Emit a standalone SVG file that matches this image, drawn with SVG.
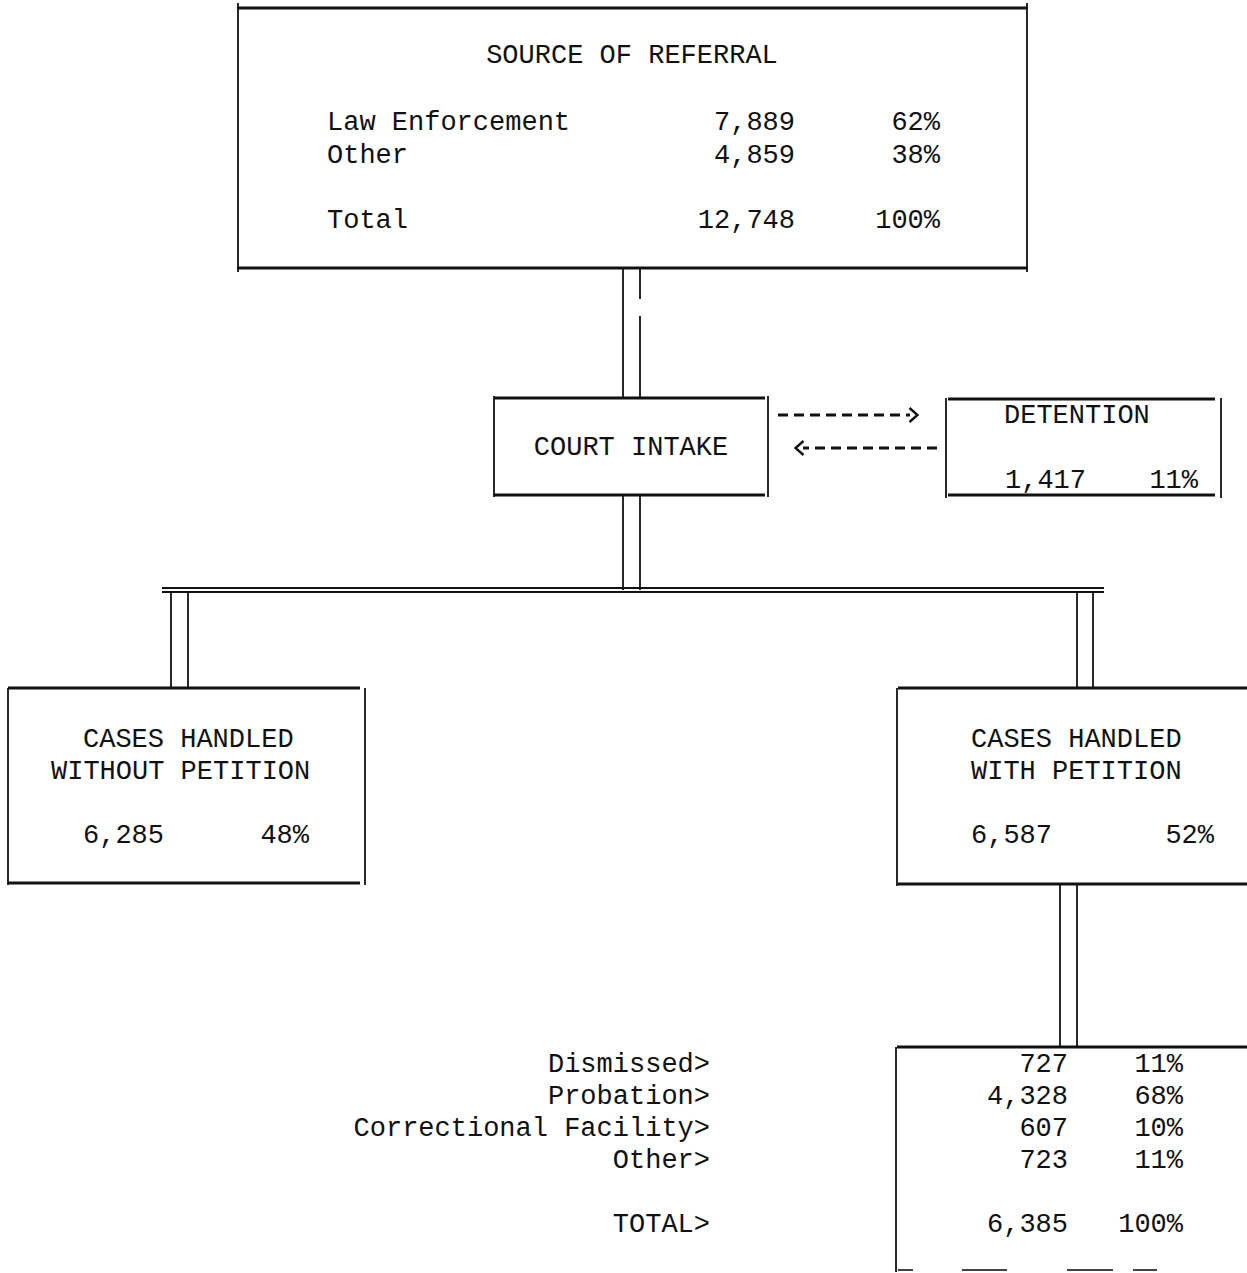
<svg xmlns="http://www.w3.org/2000/svg" width="1247" height="1273" viewBox="0 0 1247 1273">
<style>
  .t { font-family: "Liberation Mono", "DejaVu Sans Mono", monospace; font-size: 27px; fill: #111; }
  .e { text-anchor: end; }
  .m { text-anchor: middle; }
  .h { stroke: #111; stroke-width: 2.8; fill: none; }
  .v { stroke: #111; stroke-width: 1.8; fill: none; }
  .c { stroke: #111; stroke-width: 1.8; fill: none; }
  .dash { stroke: #111; stroke-width: 2.8; fill: none; stroke-dasharray: 10 6; }
  .faint { stroke: #444; stroke-width: 2; fill: none; }
</style>
<defs>
  <marker id="chev" viewBox="0 0 11 18" refX="2" refY="9" markerWidth="11" markerHeight="18" markerUnits="userSpaceOnUse" orient="auto">
    <path d="M1.5,2 L9.5,9 L1.5,16" stroke="#111" stroke-width="2.4" fill="none"/>
  </marker>
</defs>
<rect width="1247" height="1273" fill="#fff"/>

<g id="connectors">
  <!-- source to intake -->
  <line class="c" x1="623" y1="268" x2="623" y2="398"/>
  <line class="c" x1="640" y1="268" x2="640" y2="299"/>
  <line class="c" x1="640" y1="316" x2="640" y2="398"/>
  <!-- intake down -->
  <line class="c" x1="623" y1="496" x2="623" y2="590"/>
  <line class="c" x1="640" y1="496" x2="640" y2="590"/>
  <!-- horizontal double bar -->
  <line class="c" x1="162" y1="588" x2="1104" y2="588"/>
  <line class="c" x1="162" y1="592" x2="1104" y2="592"/>
  <!-- to left box -->
  <line class="c" x1="171" y1="592" x2="171" y2="688"/>
  <line class="c" x1="188" y1="592" x2="188" y2="688"/>
  <!-- to right box -->
  <line class="c" x1="1077" y1="592" x2="1077" y2="688"/>
  <line class="c" x1="1093" y1="592" x2="1093" y2="688"/>
  <!-- right box to dispositions -->
  <line class="c" x1="1060" y1="884" x2="1060" y2="1047"/>
  <line class="c" x1="1077" y1="884" x2="1077" y2="1047"/>
  <!-- detention arrows -->
  <line class="dash" x1="778" y1="415" x2="910" y2="415" marker-end="url(#chev)"/>
  <line class="dash" x1="937" y1="448" x2="803" y2="448" marker-end="url(#chev)"/>
</g>

<g id="source-of-referral">
  <line class="h" x1="237" y1="8" x2="1028" y2="8"/>
  <line class="h" x1="237" y1="268" x2="1028" y2="268"/>
  <line class="v" x1="238" y1="3" x2="238" y2="272"/>
  <line class="v" x1="1027" y1="3" x2="1027" y2="272"/>
  <text class="t m" x="632" y="63">SOURCE OF REFERRAL</text>
  <text class="t" x="327" y="130">Law Enforcement</text>
  <text class="t e" x="795" y="130">7,889</text>
  <text class="t e" x="940" y="130">62%</text>
  <text class="t" x="327" y="163">Other</text>
  <text class="t e" x="795" y="163">4,859</text>
  <text class="t e" x="940" y="163">38%</text>
  <text class="t" x="327" y="228">Total</text>
  <text class="t e" x="795" y="228">12,748</text>
  <text class="t e" x="940" y="228">100%</text>
</g>

<g id="court-intake">
  <line class="h" x1="494" y1="398" x2="765" y2="398"/>
  <line class="h" x1="494" y1="495" x2="765" y2="495"/>
  <line class="v" x1="494" y1="396" x2="494" y2="497"/>
  <line class="v" x1="768" y1="396" x2="768" y2="497"/>
  <text class="t m" x="631" y="455">COURT INTAKE</text>
</g>

<g id="detention">
  <line class="h" x1="948" y1="399" x2="1215" y2="399"/>
  <line class="h" x1="948" y1="495" x2="1215" y2="495"/>
  <line class="v" x1="946" y1="398" x2="946" y2="498"/>
  <line class="v" x1="1221" y1="398" x2="1221" y2="498"/>
  <text class="t" x="1004" y="423">DETENTION</text>
  <text class="t" x="1005" y="488">1,417</text>
  <text class="t e" x="1198" y="488">11%</text>
</g>

<g id="without-petition">
  <line class="h" x1="8" y1="688" x2="360" y2="688"/>
  <line class="h" x1="8" y1="883" x2="360" y2="883"/>
  <line class="v" x1="8" y1="688" x2="8" y2="885"/>
  <line class="v" x1="365" y1="688" x2="365" y2="885"/>
  <text class="t" x="83" y="747">CASES HANDLED</text>
  <text class="t" x="51" y="779">WITHOUT PETITION</text>
  <text class="t" x="83" y="843">6,285</text>
  <text class="t e" x="309" y="843">48%</text>
</g>

<g id="with-petition">
  <line class="h" x1="898" y1="688" x2="1247" y2="688"/>
  <line class="h" x1="898" y1="884" x2="1247" y2="884"/>
  <line class="v" x1="897" y1="688" x2="897" y2="886"/>
  <text class="t" x="971" y="747">CASES HANDLED</text>
  <text class="t" x="971" y="779">WITH PETITION</text>
  <text class="t" x="971" y="843">6,587</text>
  <text class="t e" x="1214" y="843">52%</text>
</g>

<g id="dispositions">
  <line class="h" x1="897" y1="1047" x2="1247" y2="1047"/>
  <line class="v" x1="896" y1="1047" x2="896" y2="1272"/>
  <line class="faint" x1="898" y1="1270" x2="913" y2="1270"/>
  <line class="faint" x1="962" y1="1270" x2="1007" y2="1270"/>
  <line class="faint" x1="1067" y1="1270" x2="1113" y2="1270"/>
  <line class="faint" x1="1133" y1="1270" x2="1157" y2="1270"/>
  <text class="t e" x="710" y="1072">Dismissed&gt;</text>
  <text class="t e" x="710" y="1104">Probation&gt;</text>
  <text class="t e" x="710" y="1136">Correctional Facility&gt;</text>
  <text class="t e" x="710" y="1168">Other&gt;</text>
  <text class="t e" x="710" y="1232">TOTAL&gt;</text>
  <text class="t e" x="1068" y="1072">727</text>
  <text class="t e" x="1183" y="1072">11%</text>
  <text class="t e" x="1068" y="1104">4,328</text>
  <text class="t e" x="1183" y="1104">68%</text>
  <text class="t e" x="1068" y="1136">607</text>
  <text class="t e" x="1183" y="1136">10%</text>
  <text class="t e" x="1068" y="1168">723</text>
  <text class="t e" x="1183" y="1168">11%</text>
  <text class="t e" x="1068" y="1232">6,385</text>
  <text class="t e" x="1183" y="1232">100%</text>
</g>
</svg>
